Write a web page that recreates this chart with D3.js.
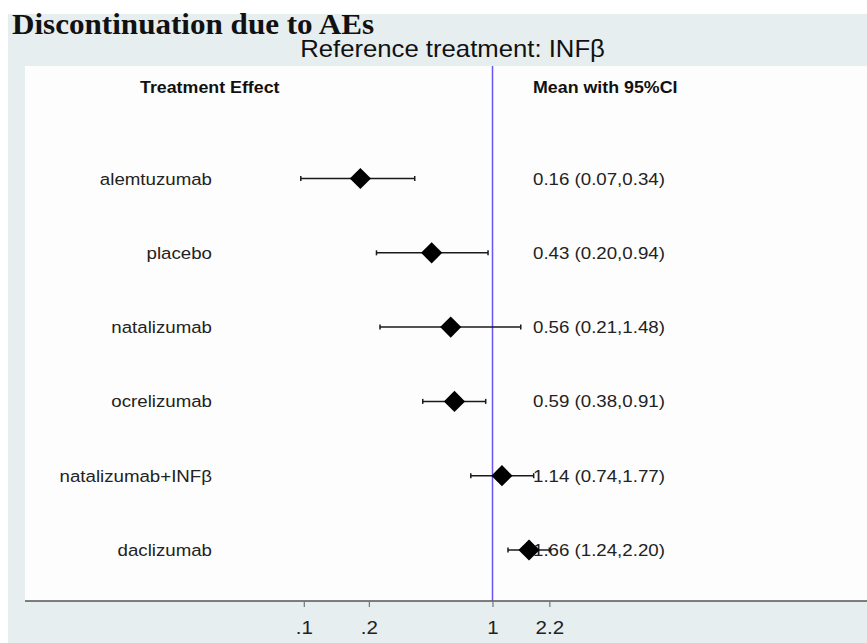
<!DOCTYPE html>
<html>
<head>
<meta charset="utf-8">
<script src="https://cdn.jsdelivr.net/npm/d3@7"></script>
<style>
  html, body { margin: 0; padding: 0; background: #ffffff; }
  svg { display: block; }
</style>
</head>
<body>
<svg id="chart" width="867" height="643"></svg>
<script>
// ---- data ----
const treatments = ["alemtuzumab", "placebo", "natalizumab", "ocrelizumab", "natalizumab+INFβ", "daclizumab"];
const means = [0.16, 0.43, 0.56, 0.59, 1.14, 1.66];
const lower = [0.07, 0.20, 0.21, 0.38, 0.74, 1.24];
const upper = [0.34, 0.94, 1.48, 0.91, 1.77, 2.20];
const tickValues = [0.073, 0.18, 1, 2.2];
const tickLabels = [".1", ".2", "1", "2.2"];
const title = "Discontinuation due to AEs";
const subtitle = "Reference treatment: INFβ";
const headerLeft = "Treatment Effect";
const headerRight = "Mean with 95%CI";
const refValue = 1;

const rows = treatments.map((t, i) => ({ t, m: means[i], lo: lower[i], hi: upper[i] }));

const svg = d3.select("#chart");
const W = 867, H = 643;
const sx = 1.08; // slight horizontal stretch of the original picture's text
const sans = "'Liberation Sans', Arial, Helvetica, sans-serif";

// backgrounds
svg.append("rect").attr("x", 0).attr("y", 0).attr("width", W).attr("height", H).attr("fill", "#ffffff");
svg.append("rect").attr("x", 8).attr("y", 14).attr("width", W - 8).attr("height", H - 14).attr("fill", "#e6eef0");
const panel = { x0: 25, x1: W, y0: 66, y1: 601 };
svg.append("rect").attr("x", panel.x0).attr("y", panel.y0).attr("width", panel.x1 - panel.x0)
  .attr("height", panel.y1 - panel.y0).attr("fill", "#fdfdfd");

// scales
const x = d3.scaleLog().domain([0.1, 10]).range([492.5 - 166, 492.5 + 166]);
const y = d3.scalePoint().domain(treatments).range([178.5, 550]);

function stext(sel, px, py) {
  return sel.attr("transform", `translate(${px},${py}) scale(${sx},1)`);
}

// titles
stext(svg.append("text"), 12, 34)
  .attr("font-family", "'Liberation Serif', 'Times New Roman', serif")
  .attr("font-weight", "bold").attr("font-size", 28.8).attr("fill", "#111")
  .text(title);
stext(svg.append("text"), 452.5, 57)
  .attr("font-family", sans).attr("font-size", 23.8).attr("fill", "#111")
  .attr("text-anchor", "middle")
  .text(subtitle);

// headers
stext(svg.append("text"), 140, 93)
  .attr("font-family", sans).attr("font-weight", "bold").attr("font-size", 16.5).attr("fill", "#111")
  .text(headerLeft);
stext(svg.append("text"), 533, 93)
  .attr("font-family", sans).attr("font-weight", "bold").attr("font-size", 16.5).attr("fill", "#111")
  .text(headerRight);

// reference line
svg.append("line")
  .attr("x1", x(refValue)).attr("x2", x(refValue))
  .attr("y1", panel.y0).attr("y2", panel.y1)
  .attr("stroke", "#6a55f5").attr("stroke-width", 1.5);

// row labels
svg.append("g").selectAll("text").data(rows).join("text")
  .each(function (d) { stext(d3.select(this), 212, y(d.t) + 6); })
  .attr("text-anchor", "end")
  .attr("font-family", sans).attr("font-size", 17.3).attr("fill", "#222")
  .text(d => d.t);

// value texts
const f2 = d3.format(".2f");
svg.append("g").selectAll("text").data(rows).join("text")
  .each(function (d) { stext(d3.select(this), 533, y(d.t) + 6); })
  .attr("font-family", sans).attr("font-size", 17.3).attr("fill", "#222")
  .text(d => `${f2(d.m)} (${f2(d.lo)},${f2(d.hi)})`);

// CI lines
const gci = svg.append("g").attr("stroke", "#1a1a1a").attr("stroke-width", 1.5);
gci.selectAll("line.ci").data(rows).join("line").attr("class", "ci")
  .attr("x1", d => x(d.lo)).attr("x2", d => x(d.hi))
  .attr("y1", d => y(d.t)).attr("y2", d => y(d.t));
gci.selectAll("line.capl").data(rows).join("line").attr("class", "capl")
  .attr("x1", d => x(d.lo)).attr("x2", d => x(d.lo))
  .attr("y1", d => y(d.t) - 2.5).attr("y2", d => y(d.t) + 2.5);
gci.selectAll("line.capr").data(rows).join("line").attr("class", "capr")
  .attr("x1", d => x(d.hi)).attr("x2", d => x(d.hi))
  .attr("y1", d => y(d.t) - 2.5).attr("y2", d => y(d.t) + 2.5);

// diamonds
const diamond = d3.symbol().type(d3.symbolSquare).size(225);
svg.append("g").selectAll("path").data(rows).join("path")
  .attr("d", diamond)
  .attr("transform", d => `translate(${x(d.m)},${y(d.t)}) rotate(45)`)
  .attr("fill", "#000");

// x axis
const ax = svg.append("g").attr("transform", `translate(0,${panel.y1})`);
ax.append("line").attr("x1", panel.x0).attr("x2", W).attr("y1", 0).attr("y2", 0)
  .attr("stroke", "#555").attr("stroke-width", 1.6);
const axis = d3.axisBottom(x).tickValues(tickValues).tickFormat((d, i) => tickLabels[i]).tickSize(6).tickPadding(8);
const axg = ax.append("g").call(axis);
axg.select(".domain").remove();
axg.selectAll(".tick line").attr("stroke", "#777").attr("stroke-width", 1.2);
axg.selectAll(".tick text").attr("font-family", sans).attr("font-size", 19).attr("fill", "#222")
  .attr("dy", null).attr("y", 0)
  .attr("transform", `translate(0,33) scale(${sx},1)`);
</script>
</body>
</html>
